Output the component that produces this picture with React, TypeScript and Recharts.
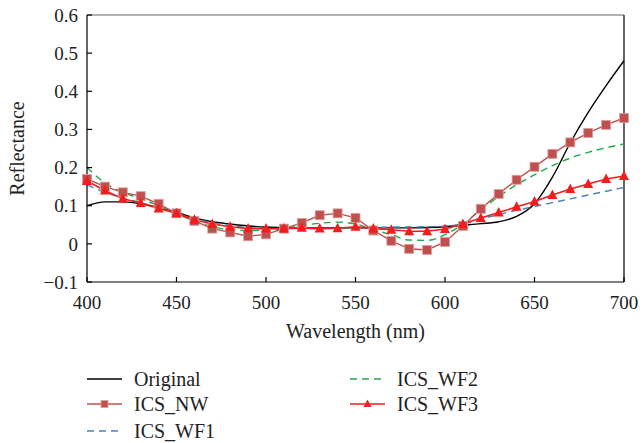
import { Label, Line, LineChart, ReferenceLine, XAxis, YAxis } from 'recharts';

const wavelengths = [400, 410, 420, 430, 440, 450, 460, 470, 480, 490, 500, 510, 520, 530, 540, 550, 560, 570, 580, 590, 600, 610, 620, 630, 640, 650, 660, 670, 680, 690, 700];
const original = [0.1, 0.11, 0.11, 0.105, 0.095, 0.083, 0.068, 0.058, 0.052, 0.047, 0.044, 0.043, 0.042, 0.042, 0.042, 0.042, 0.042, 0.042, 0.042, 0.043, 0.045, 0.049, 0.053, 0.058, 0.072, 0.105, 0.175, 0.265, 0.345, 0.415, 0.48];
const icsNW = [0.17, 0.15, 0.135, 0.125, 0.105, 0.08, 0.06, 0.04, 0.03, 0.02, 0.025, 0.04, 0.055, 0.075, 0.08, 0.068, 0.035, 0.008, -0.013, -0.016, 0.005, 0.047, 0.092, 0.131, 0.168, 0.202, 0.236, 0.266, 0.291, 0.312, 0.33];
const icsWF1 = [0.155, 0.135, 0.12, 0.108, 0.095, 0.08, 0.066, 0.055, 0.048, 0.043, 0.04, 0.04, 0.04, 0.04, 0.041, 0.042, 0.043, 0.044, 0.044, 0.045, 0.047, 0.052, 0.065, 0.077, 0.088, 0.098, 0.108, 0.118, 0.128, 0.138, 0.148];
const icsWF2 = [0.2, 0.16, 0.135, 0.118, 0.1, 0.078, 0.06, 0.045, 0.037, 0.035, 0.036, 0.04, 0.048, 0.054, 0.057, 0.052, 0.037, 0.024, 0.01, 0.009, 0.024, 0.052, 0.089, 0.124, 0.155, 0.181, 0.205, 0.225, 0.24, 0.252, 0.262];
const icsWF3 = [0.165, 0.14, 0.118, 0.107, 0.093, 0.08, 0.063, 0.052, 0.045, 0.04, 0.04, 0.04, 0.042, 0.04, 0.041, 0.045, 0.04, 0.037, 0.033, 0.033, 0.039, 0.052, 0.068, 0.082, 0.097, 0.111, 0.128, 0.144, 0.157, 0.17, 0.178];

const xTicks = [400, 450, 500, 550, 600, 650, 700];
const yTicks = [-0.1, 0, 0.1, 0.2, 0.3, 0.4, 0.5, 0.6];

const data = wavelengths.map((w, i) => ({
  w,
  original: original[i],
  nw: icsNW[i],
  wf1: icsWF1[i],
  wf2: icsWF2[i],
  wf3: icsWF3[i],
}));

const FONT = 'Liberation Serif';
const NW_COLOR = '#c0504d';
const WF3_COLOR = '#f41c1c';
const WF1_COLOR = '#4f81bd';
const WF2_COLOR = '#22a84a';

const tickStyle = { fill: '#222', fontSize: 19, style: { fontFamily: FONT } };
const labelStyle = { fill: '#222', fontSize: 20, fontFamily: FONT };

const SquareDot = (props: any) => {
  const { cx, cy, index } = props;
  if (cx == null || cy == null) return null;
  return <rect key={'sq' + index} x={cx - 4.5} y={cy - 4.5} width={9} height={9} fill={NW_COLOR} stroke="#d9a09e" strokeWidth={0.8} />;
};

const TriangleDot = (props: any) => {
  const { cx, cy, index } = props;
  if (cx == null || cy == null) return null;
  return <polygon key={'tr' + index} points={`${cx},${cy - 5.5} ${cx + 5},${cy + 4} ${cx - 5},${cy + 4}`} fill={WF3_COLOR} />;
};

const fmtY = (v: number) => (v === 0 ? '0' : v.toFixed(1).replace('-', '\u2212'));

const legendItems = [
  { name: 'Original', color: '#000', dash: undefined, marker: null, x: 87, y: 379 },
  { name: 'ICS_NW', color: NW_COLOR, dash: undefined, marker: 'square', x: 87, y: 404 },
  { name: 'ICS_WF1', color: WF1_COLOR, dash: '7 5', marker: null, x: 87, y: 431 },
  { name: 'ICS_WF2', color: WF2_COLOR, dash: '7 5', marker: null, x: 350, y: 379 },
  { name: 'ICS_WF3', color: WF3_COLOR, dash: undefined, marker: 'triangle', x: 350, y: 404 },
];

export default function App() {
  return (
    <div style={{ position: 'absolute', left: 0, top: 0, width: 643, height: 443, background: '#fff' }}>
      <style>{'#chart-root text { font-family: "Liberation Serif", serif !important; }'}</style>
      <div id="chart-root">
        <LineChart width={643} height={443} data={data} margin={{ top: 15, right: 19, left: 0, bottom: 101 }}>
          <XAxis
            dataKey="w"
            type="number"
            domain={[400, 700]}
            ticks={xTicks}
            height={60}
            tickSize={-5}
            tickMargin={19}
            stroke="#000"
            strokeWidth={1.2}
            tick={tickStyle}
          >
            <Label value="Wavelength (nm)" position="insideBottom" offset={4} style={labelStyle} />
          </XAxis>
          <YAxis
            type="number"
            domain={[-0.1, 0.6]}
            ticks={yTicks}
            width={87}
            tickSize={-5}
            tickMargin={14}
            tickFormatter={fmtY}
            stroke="#000"
            strokeWidth={1.2}
            tick={tickStyle}
          >
            <Label value="Reflectance" angle={-90} position="insideLeft" offset={17} style={{ ...labelStyle, textAnchor: 'middle' }} />
          </YAxis>
          <ReferenceLine y={0.6} stroke="#666" strokeWidth={1.2} />
          <ReferenceLine x={700} stroke="#000" strokeWidth={1.2} />
          <Line type="monotone" dataKey="original" stroke="#000" strokeWidth={1.4} dot={false} isAnimationActive={false} />
          <Line type="monotone" dataKey="wf1" stroke={WF1_COLOR} strokeWidth={1.4} strokeDasharray="7 5" dot={false} isAnimationActive={false} />
          <Line type="monotone" dataKey="wf2" stroke={WF2_COLOR} strokeWidth={1.4} strokeDasharray="7 5" dot={false} isAnimationActive={false} />
          <Line type="linear" dataKey="nw" stroke={NW_COLOR} strokeWidth={1.4} dot={SquareDot} isAnimationActive={false} />
          <Line type="linear" dataKey="wf3" stroke={WF3_COLOR} strokeWidth={1.6} dot={TriangleDot} isAnimationActive={false} />
        </LineChart>
        <svg width={643} height={443} style={{ position: 'absolute', left: 0, top: 0, pointerEvents: 'none' }}>
          {legendItems.map((it) => (
            <g key={it.name}>
              <line x1={it.x} x2={it.x + 35} y1={it.y} y2={it.y} stroke={it.color} strokeWidth={1.5} strokeDasharray={it.dash} />
              {it.marker === 'square' && <rect x={it.x + 14} y={it.y - 3.5} width={7} height={7} fill={it.color} stroke="#d9a09e" strokeWidth={0.8} />}
              {it.marker === 'triangle' && <polygon points={`${it.x + 17.5},${it.y - 4.5} ${it.x + 21.5},${it.y + 3} ${it.x + 13.5},${it.y + 3}`} fill={it.color} />}
              <text x={it.x + 47} y={it.y} dominantBaseline="central" fontSize={20} style={{ fontFamily: FONT }} fill="#222">
                {it.name}
              </text>
            </g>
          ))}
        </svg>
      </div>
    </div>
  );
}
